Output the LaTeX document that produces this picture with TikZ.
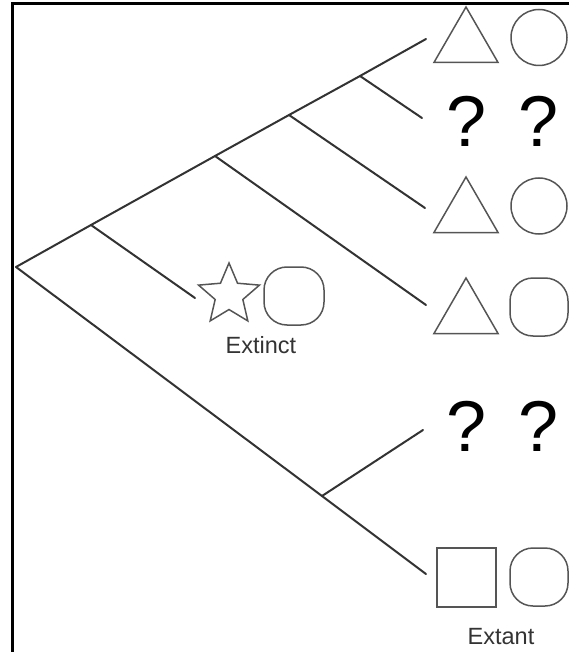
\documentclass[tikz,border=0pt]{standalone}
\usepackage{fontspec}
\setmainfont{Liberation Sans}
\usetikzlibrary{shapes.geometric}
\definecolor{ink}{HTML}{333333}
\definecolor{edge}{HTML}{555555}
\tikzset{
  branch/.style={line width=2pt,draw=ink,line cap=round},
  frameline/.style={line width=3pt,draw=black},
  tri/.style={regular polygon,regular polygon sides=3,draw=edge,line width=1.5pt,
    minimum size=74pt,inner sep=0pt},
  ring/.style={circle,draw=edge,line width=1.5pt,minimum size=56pt,inner sep=0pt},
  blob/.style={rectangle,rounded corners=23pt,draw=edge,line width=1.5pt,
    minimum width=58pt,minimum height=58pt,inner sep=0pt},
  boxy/.style={rectangle,draw=edge,line width=1.5pt,minimum size=59pt,inner sep=0pt},
  starry/.style={star,star points=5,star point ratio=2.2,draw=edge,line width=1.5pt,
    minimum size=64pt,inner sep=0pt},
  qmark/.style={anchor=base,inner sep=0pt,font=\fontsize{72}{72}\selectfont},
  lbl/.style={anchor=base,inner sep=0pt,text=ink,font=\fontsize{23.5}{24}\selectfont}
}

\begin{document}
\begin{tikzpicture}[x=1pt,y=-1pt]
 \useasboundingbox (0,0) rectangle (569,652);
 \draw[frameline] (12.3,652) -- (12.3,3.3) -- (569,3.3);

 % tree points
 \coordinate (root) at (16,267);
 \coordinate (na) at (91,225);
 \coordinate (nb) at (215,156);
 \coordinate (nc) at (289,115);
 \coordinate (nd) at (360,76);
 \coordinate (ne) at (322,496);
 \coordinate (tip1) at (426,39);
 \coordinate (tip2) at (422,118);
 \coordinate (tip3) at (425,208);
 \coordinate (tip4) at (426,305);
 \coordinate (tipx) at (195,298);
 \coordinate (tip5) at (423,430);
 \coordinate (tip6) at (426,574);

 \draw[branch] (root) -- (na) -- (nb) -- (nc) -- (nd) -- (tip1);
 \draw[branch] (nd) -- (tip2);
 \draw[branch] (nc) -- (tip3);
 \draw[branch] (nb) -- (tip4);
 \draw[branch] (na) -- (tipx);
 \draw[branch] (root) -- (ne) -- (tip6);
 \draw[branch] (ne) -- (tip5);

 % tips
 \node[tri] (t1) at (466,44) {};
 \node[ring] (c1) at (539,37.5) {};
 \node[qmark] (q1a) at (467,147) {?};
 \node[qmark] (q1b) at (539,147) {?};
 \node[tri] (t3) at (466,214) {};
 \node[ring] (c3) at (539,206) {};
 \node[tri] (t4) at (466,315) {};
 \node[blob] (c4) at (539,307) {};
 \node[qmark] (q5a) at (467,451) {?};
 \node[qmark] (q5b) at (539,451) {?};
 \node[boxy] (s6) at (466.5,577.5) {};
 \node[blob] (c6) at (539,577) {};
 \node[lbl] (extant) at (501,644) {Extant};

 % fossil
 \node[starry] (fx) at (229,295) {};
 \node[blob,minimum width=60pt] (cx) at (294,296) {};
 \node[lbl] (extinct) at (261,353) {Extinct};
\end{tikzpicture}
\end{document}
